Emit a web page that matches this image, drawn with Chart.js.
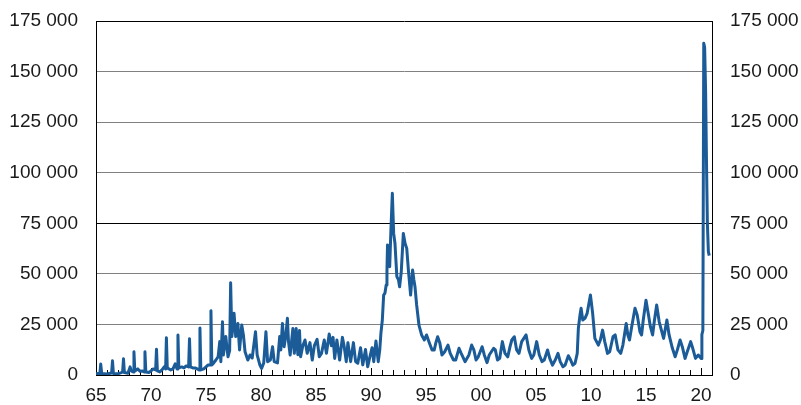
<!DOCTYPE html>
<html>
<head>
<meta charset="utf-8">
<script src="https://cdn.jsdelivr.net/npm/chart.js@4"></script>
<style>
  html, body { margin: 0; padding: 0; background: #fff; }
  #wrap { width: 801px; height: 405px; }
</style>
</head>
<body>
<div id="wrap"><canvas id="myChart"></canvas></div>
<script>
// data, decimal years and values
const yrs1 = [1965.0,1965.35,1965.43,1965.52,1966.0,1966.42,1966.5,1966.58,1967.0,1967.3,1967.42,1967.5,1967.58,1967.9,
  1968.1,1968.2,1968.38,1968.45,1968.53,1968.8,1969.0,1969.2,1969.38,1969.45,1969.53,1969.8,
  1970.0,1970.2,1970.42,1970.5,1970.58,1970.8,1971.0,1971.2,1971.33,1971.4,1971.48,1971.8,
  1972.0,1972.2,1972.37,1972.45,1972.53,1972.8,1973.0,1973.2,1973.42,1973.5,1973.58,1973.8,
  1974.0,1974.2,1974.37,1974.45,1974.53,1974.8,1975.0,1975.2,1975.38,1975.45,1975.53,1975.7,1975.9,
  1976.1,1976.25,1976.35,1976.5,1976.58,1976.8];
const vals1 = [800,600,5400,700,500,1000,7000,800,600,1200,1500,8000,1200,900,
  4000,2000,1500,11500,2000,3000,1800,2000,1500,11500,1500,1200,
  2000,3000,2500,12700,2000,1500,2500,4000,3000,18400,3500,2500,
  3000,5500,3000,19800,3500,4000,3500,4500,4000,17900,4000,3500,
  3500,3000,2500,23200,2500,3000,4000,5000,5000,31800,5000,6000,7400,
  9000,16500,6600,26300,9900,19000];

const yrs2 = [1977.0,1977.15,1977.24,1977.35,1977.55,1977.7,1977.9,1978.05,1978.25,1978.4,
  1978.55,1978.8,1979.0,1979.2,1979.5,1979.65,1979.9,1980.05,1980.25,1980.45,
  1980.6,1980.85,1981.05,1981.2,1981.5,1981.7,1981.8,1981.95,1982.1,1982.25,
  1982.4,1982.5,1982.65,1982.9,1983.03,1983.2,1983.35,1983.5,1983.6,1983.8,
  1984.0,1984.2,1984.45,1984.66,1984.85,1985.1,1985.3,1985.5,1985.75,1985.95,
  1986.2,1986.4,1986.55,1986.7,1986.9,1987.15,1987.4,1987.55,1987.75,1987.9,
  1988.15,1988.4,1988.6,1988.8,1989.05,1989.25,1989.5,1989.7,1989.9,1990.1,
  1990.25,1990.45,1990.66,1990.8,1990.9];
const vals2 = [9000,12000,45600,19000,30500,19000,25500,12400,24700,19800,
  11500,7400,9900,8400,21400,9900,4900,3300,6000,21400,
  6600,7400,14000,6600,6000,19000,12400,25500,14000,19000,
  28000,16500,9900,23000,10700,23000,10000,22000,9000,14500,
  17300,10700,16000,7400,14500,17600,9000,10700,17300,10700,
  20300,14500,18600,8200,17300,7400,18600,14500,6600,16000,
  6600,16000,6600,5800,13500,5000,12600,4100,9000,13500,
  6600,16800,6600,12600,20600];

const yrs3 = [1991.03,1991.15,1991.27,1991.38,1991.45,1991.5,1991.62,1991.7,1991.8,1991.94,
  1992.06,1992.18,1992.35,1992.5,1992.6,1992.75,1992.94,1993.1,1993.25,1993.4,
  1993.6,1993.78,1993.9,1994.0,1994.15,1994.36,1994.6,1994.85,1995.05,1995.3,
  1995.55,1995.75,1995.9,1996.06,1996.25,1996.45,1996.7,1997.0,1997.2,1997.5,
  1997.7,1998.0,1998.2,1998.55,1998.9,1999.15,1999.35,1999.55,1999.75,2000.1,
  2000.3,2000.55,2000.75,2001.15,2001.3,2001.5,2001.7,2001.94,2002.18,2002.43,
  2002.64,2002.8,2003.03,2003.24,2003.45,2003.7,2004.1,2004.35,2004.6,2004.8,
  2005.06,2005.3,2005.55,2005.75,2006.05,2006.25,2006.5,2006.75,2007.0,2007.2,
  2007.45,2007.65,2007.94,2008.15,2008.35,2008.55];
const vals3 = [27200,39500,40500,44500,51000,64300,63000,53500,70000,89800,
  70000,65000,48600,47000,43600,51000,70000,65000,62600,51900,
  39500,51900,47000,43600,34600,24700,19800,17300,19800,16000,
  12400,12400,16000,18900,16000,9900,11500,14800,10700,7400,
  7400,13200,10700,6600,9900,14800,12400,7400,9000,14000,
  9900,6100,9900,13200,12400,7400,8200,16500,10700,9000,
  14000,17300,18900,12400,10700,16500,19800,12400,8200,9900,
  16500,9900,6600,7400,12400,8200,4900,7400,10700,6600,
  4100,4900,9500,7400,4900,5800];

const yrs4 = [2008.75,2008.85,2009.0,2009.1,2009.25,2009.45,2009.65,2009.95,2010.15,2010.35,
  2010.67,2010.85,2011.05,2011.25,2011.5,2011.7,2012.0,2012.2,2012.45,2012.7,
  2012.9,2013.2,2013.35,2013.5,2013.7,2014.0,2014.2,2014.45,2014.6,2014.75,
  2015.0,2015.2,2015.4,2015.6,2015.75,2015.97,2016.2,2016.4,2016.6,2016.9,
  2017.1,2017.4,2017.65,2017.85,2018.1,2018.3,2018.55,2018.75,2019.06,2019.25,
  2019.5,2019.75,2020.0,2020.08,2020.17,2020.25,2020.33,2020.42,2020.5,2020.58,
  2020.67,2020.75];
const vals4 = [10700,23000,29700,33000,27200,28000,30500,39500,30500,18100,
  14800,17300,22200,16500,10700,11500,18900,19800,12400,10700,
  14800,25500,19800,17300,23900,33000,29700,21400,19800,27200,
  37000,30500,23900,19800,26300,34600,26300,22200,18100,27200,
  19800,13200,9000,12400,17300,14000,8200,11500,16500,13200,
  8200,9900,8200,20000,22000,164000,162000,140000,105000,75000,
  61000,59000];

const yTicks = [0, 25000, 50000, 75000, 100000, 125000, 150000, 175000];

const years = yrs1.concat(yrs2, yrs3, yrs4);
const values = vals1.concat(vals2, vals3, vals4);
let punti = [];
for (let i = 0; i < years.length; i++) {
  punti.push({x: years[i], y: values[i]});
}

const fmt = v => String(v).replace(/\B(?=(\d{3})+(?!\d))/g, ' ');
const fnt = {family: "'Liberation Sans', Arial, sans-serif", size: 19};

// small year ticks on the inside of the bottom axis
const innerTicks = {
  id: 'innerTicks',
  beforeDatasetsDraw(chart) {
    const {ctx, chartArea, scales} = chart;
    ctx.save();
    ctx.strokeStyle = '#000';
    ctx.lineWidth = 1;
    for (let yr = 1965; yr <= 2021; yr++) {
      const px = Math.round(scales.x.getPixelForValue(yr)) + 0.5;
      const len = yr % 5 === 0 ? 7 : 5;
      ctx.beginPath();
      ctx.moveTo(px, chartArea.bottom);
      ctx.lineTo(px, chartArea.bottom - len);
      ctx.stroke();
    }
    ctx.restore();
  }
};

const yAxis = (pos, onArea) => ({
  position: pos,
  min: 0, max: 175000,
  afterBuildTicks: s => { s.ticks = yTicks.map(v => ({value: v})); },
  afterFit: s => {
    s.width = pos === 'left' ? 96 : 89;
    s.paddingTop = 0;
    s.paddingBottom = 0;
  },
  ticks: {color: '#1a1a1a', font: fnt, padding: 18, callback: v => fmt(v)},
  grid: {
    drawOnChartArea: onArea, drawTicks: false, lineWidth: 1,
    color: c => (c.tick && (c.tick.value === 75000 || c.tick.value === 175000)) ? '#000' : '#808080'
  },
  border: {display: true, color: '#000', width: 1}
});

Chart.defaults.animation = false;
new Chart(document.getElementById('myChart'), {
  type: 'line',
  data: {
    datasets: [{
      data: punti,
      borderColor: '#1a5b98',
      borderWidth: 3,
      borderJoinStyle: 'round',
      pointRadius: 0,
      tension: 0,
      yAxisID: 'y'
    }]
  },
  options: {
    responsive: true,
    maintainAspectRatio: false,
    layout: {padding: {top: 21, left: 0, right: 0, bottom: 0}},
    plugins: {legend: {display: false}, tooltip: {enabled: false}},
    scales: {
      x: {
        type: 'linear',
        min: 1965, max: 2021,
        afterFit: s => {
          s.height = 30;
          s.paddingLeft = 0;
          s.paddingRight = 0;
        },
        ticks: {
          stepSize: 1, autoSkip: false, maxRotation: 0, padding: 9,
          color: '#1a1a1a', font: fnt,
          callback: v => (v % 5 === 0 ? String(v % 100).padStart(2, '0') : '')
        },
        grid: {drawOnChartArea: false, drawTicks: false},
        border: {display: true, color: '#000', width: 1}
      },
      y: yAxis('left', true),
      y2: yAxis('right', false)
    }
  },
  plugins: [innerTicks]
});
</script>
</body>
</html>
